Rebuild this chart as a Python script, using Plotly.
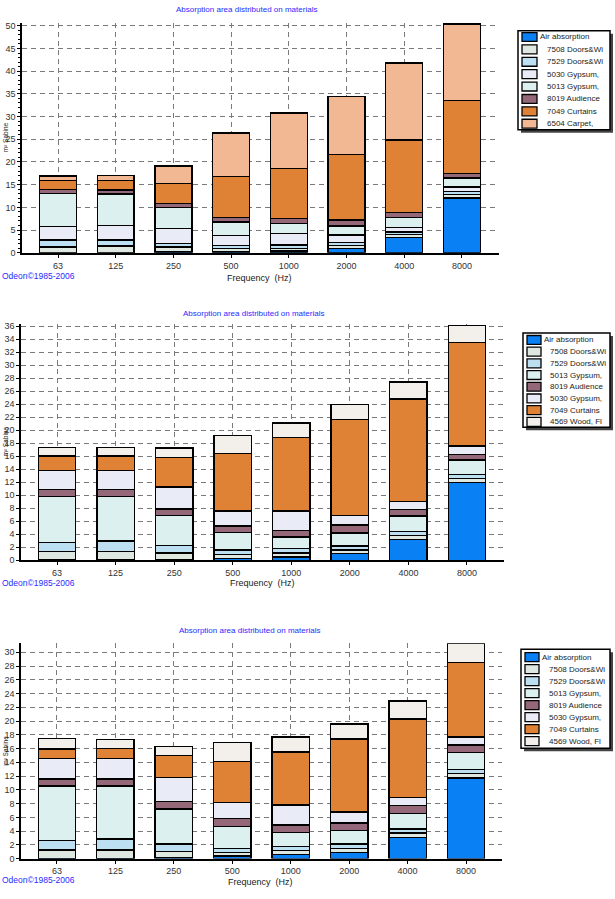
import plotly.graph_objects as go

W, H = 615, 899
freqs = ["63", "125", "250", "500", "1000", "2000", "4000", "8000"]

# ---------------- Panel 1 data ----------------
p1_names = ["Air absorption", "7508 Doors&Wi", "7529 Doors&Wi", "5030 Gypsum,",
            "5013 Gypsum,", "8019 Audience", "7049 Curtains", "6504 Carpet,"]
p1_air = [0.05, 0.05, 0.3, 0.3, 0.4, 1.0, 3.4, 12.1]
p1_7508 = [1.2, 1.4, 1.0, 0.6, 0.6, 0.6, 0.6, 0.7]
p1_7529 = [1.6, 1.4, 0.8, 0.7, 0.7, 0.7, 0.6, 0.7]
p1_5030 = [3.0, 3.2, 3.3, 2.2, 2.5, 1.6, 1.0, 1.0]
p1_5013 = [7.2, 6.9, 4.6, 3.0, 2.3, 2.0, 2.2, 2.0]
p1_8019 = [0.9, 0.9, 0.9, 1.0, 1.0, 1.3, 1.1, 0.9]
p1_7049 = [2.0, 2.1, 4.4, 9.0, 11.1, 14.4, 15.9, 16.2]
p1_6504 = [1.0, 1.1, 3.8, 9.6, 12.2, 12.8, 17.0, 16.8]

# ---------------- Panel 2 data ----------------
p2_names = ["Air absorption", "7508 Doors&Wi", "7529 Doors&Wi", "5013 Gypsum,",
            "8019 Audience", "5030 Gypsum,", "7049 Curtains", "4569 Wood, Fl"]
p2_air = [0.05, 0.05, 0.1, 0.3, 0.5, 1.0, 3.2, 12.0]
p2_7508 = [1.3, 1.3, 1.0, 0.6, 0.6, 0.6, 0.6, 0.6]
p2_7529 = [1.4, 1.6, 1.2, 0.7, 0.7, 0.6, 0.6, 0.6]
p2_5013 = [7.1, 6.9, 4.6, 2.7, 1.8, 2.0, 2.4, 2.2]
p2_8019 = [1.0, 1.0, 1.0, 1.0, 1.0, 1.2, 1.0, 0.9]
p2_5030 = [3.0, 3.0, 3.4, 2.3, 3.0, 1.5, 1.2, 1.3]
p2_7049 = [2.2, 2.2, 4.5, 8.8, 11.3, 14.8, 15.8, 15.9]
p2_4569 = [1.3, 1.3, 1.5, 2.8, 2.2, 2.3, 2.6, 2.6]

# ---------------- Panel 3 data ----------------
p3_names = p2_names
p3_air = [0.05, 0.05, 0.2, 0.4, 0.6, 0.9, 3.1, 11.7]
p3_7508 = [1.2, 1.2, 0.8, 0.5, 0.6, 0.6, 0.6, 0.7]
p3_7529 = [1.4, 1.6, 1.1, 0.6, 0.6, 0.6, 0.6, 0.6]
p3_5013 = [7.9, 7.7, 5.1, 3.2, 2.0, 2.0, 2.3, 2.4]
p3_8019 = [1.0, 1.0, 1.1, 1.1, 1.1, 1.1, 1.1, 1.1]
p3_5030 = [3.0, 3.0, 3.5, 2.4, 2.9, 1.6, 1.2, 1.2]
p3_7049 = [1.4, 1.5, 3.2, 5.9, 7.7, 10.6, 11.4, 10.8]
p3_4569 = [1.5, 1.3, 1.3, 2.8, 2.2, 2.2, 2.6, 2.8]

C_AIR = "#0a80f5"
C_7508 = "#dfe7e1"
C_7529 = "#bcdff2"
C_5030 = "#e9ebf7"
C_5013 = "#dcf0f0"
C_8019 = "#946878"
C_7049 = "#e08236"
C_6504 = "#f2b894"
C_4569 = "#f3f0ec"

p1_series = [p1_air, p1_7508, p1_7529, p1_5030, p1_5013, p1_8019, p1_7049, p1_6504]
p1_colors = [C_AIR, C_7508, C_7529, C_5030, C_5013, C_8019, C_7049, C_6504]
p2_series = [p2_air, p2_7508, p2_7529, p2_5013, p2_8019, p2_5030, p2_7049, p2_4569]
p2_colors = [C_AIR, C_7508, C_7529, C_5013, C_8019, C_5030, C_7049, C_4569]
p3_series = [p3_air, p3_7508, p3_7529, p3_5013, p3_8019, p3_5030, p3_7049, p3_4569]
p3_colors = p2_colors


def px(x):
    return x / W


def py(y):
    return 1 - y / H


FONT = "Liberation Sans, Arial, sans-serif"
fig = go.Figure()

panels = [
    dict(names=p1_names, series=p1_series, colors=p1_colors, ax="",
         xdom=(22, 499), ydom=(252, 19.8), xr=(-0.624, 7.643), yr=(0, 50.7), dt=5, minor=True,
         title=(246, 7), odeon=275, freq=(259, 277), ylab=136,
         leg=dict(box=(518, 28, 610, 128), sw=(522, 537), tx=(538, 545), y0=34.3, pitch=12.5)),
    dict(names=p2_names, series=p2_series, colors=p2_colors, ax="2",
         xdom=(21, 504), ydom=(562.3, 324.2), xr=(-0.615, 7.632), yr=(0, 36.3), dt=2, minor=False,
         title=(253, 313), odeon=585, freq=(262, 585), ylab=443,
         leg=dict(box=(523, 333, 610, 428), sw=(527, 541), tx=(542, 548), y0=340, pitch=11.8)),
    dict(names=p3_names, series=p3_series, colors=p3_colors, ax="3",
         xdom=(21, 502), ydom=(863.3, 646.1), xr=(-0.616, 7.616), yr=(0, 31.3), dt=2, minor=False,
         title=(249, 633), odeon=885, freq=(260, 887), ylab=755,
         leg=dict(box=(521, 652, 610, 752), sw=(525, 539), tx=(540, 547), y0=660, pitch=12.1)),
]

shapes = []
annotations = []
layout_axes = {}

for p in panels:
    ax = p["ax"]
    for name, vals, col in zip(p["names"], p["series"], p["colors"]):
        fig.add_trace(go.Bar(
            x=freqs, y=vals, name=name, marker=dict(color=col, line=dict(color="black", width=1.4)),
            width=0.64, xaxis="x" + ax, yaxis="y" + ax, showlegend=False,
        ))
    xa = dict(
        domain=[px(p["xdom"][0]), px(p["xdom"][1])], anchor="y" + ax,
        type="category", range=list(p["xr"]),
        showline=True, linecolor="black", linewidth=2,
        ticks="outside", ticklen=3, tickcolor="black",
        showgrid=True, gridcolor="#7a7a7a", griddash="5px,4px", gridwidth=1,
        tickfont=dict(family=FONT, size=9, color="#333"),
        zeroline=False, fixedrange=True,
    )
    ya = dict(
        domain=[py(p["ydom"][0]), py(p["ydom"][1])], anchor="x" + ax,
        range=list(p["yr"]), dtick=p["dt"], tick0=0,
        showline=True, linecolor="black", linewidth=1.5,
        ticks="outside", ticklen=3, tickcolor="black",
        showgrid=True, gridcolor="#7a7a7a", griddash="5px,4px", gridwidth=1,
        tickfont=dict(family=FONT, size=9, color="#333"),
        zeroline=False, fixedrange=True,
    )
    if p["minor"]:
        ya["minor"] = dict(ticks="outside", ticklen=2, dtick=1, tickcolor="black", showgrid=False)
    layout_axes["xaxis" + ax] = xa
    layout_axes["yaxis" + ax] = ya

    # texts
    annotations.append(dict(text="Absorption area distributed on materials", x=px(p["title"][0]),
                            y=py(p["title"][1]), xref="paper", yref="paper", showarrow=False,
                            xanchor="center", yanchor="middle",
                            font=dict(family=FONT, size=8, color="#2a2aff")))
    annotations.append(dict(text="Odeon©1985-2006", x=px(0), y=py(p["odeon"]), xref="paper",
                            yref="paper", showarrow=False, xanchor="left", yanchor="middle",
                            font=dict(family=FONT, size=8.5, color="#2a2aff")))
    annotations.append(dict(text="Frequency  (Hz)", x=px(p["freq"][0]), y=py(p["freq"][1]),
                            xref="paper", yref="paper", showarrow=False, xanchor="center",
                            yanchor="middle", font=dict(family=FONT, size=9, color="#222")))
    annotations.append(dict(text="m² Sabine", x=px(0), y=py(p["ylab"]), xref="paper", yref="paper",
                            showarrow=False, xanchor="left", yanchor="middle", textangle=-90,
                            font=dict(family=FONT, size=6.5, color="#222")))

    # legend box
    lg = p["leg"]
    x0, y0, x1, y1 = lg["box"]
    shapes.append(dict(type="rect", xref="paper", yref="paper", x0=px(x0 + 3), x1=px(x1 + 3),
                       y0=py(y1 + 3), y1=py(y0 + 3), fillcolor="#444", line=dict(width=0)))
    shapes.append(dict(type="rect", xref="paper", yref="paper", x0=px(x0), x1=px(x1),
                       y0=py(y1), y1=py(y0), fillcolor="white", line=dict(color="black", width=1.5)))
    for i, (name, col) in enumerate(zip(p["names"], p["colors"])):
        yc = lg["y0"] + i * lg["pitch"]
        shapes.append(dict(type="rect", xref="paper", yref="paper", x0=px(lg["sw"][0]),
                           x1=px(lg["sw"][1]), y0=py(yc + 4.5), y1=py(yc - 4.5), fillcolor=col,
                           line=dict(color="black", width=1.3)))
        tx = lg["tx"][0] if i == 0 else lg["tx"][1]
        annotations.append(dict(text=name, x=px(tx), y=py(yc), xref="paper", yref="paper",
                                showarrow=False, xanchor="left", yanchor="middle",
                                font=dict(family=FONT, size=8, color="#222")))

fig.update_layout(
    width=W, height=H, margin=dict(l=0, r=0, t=0, b=0),
    paper_bgcolor="white", plot_bgcolor="white",
    barmode="stack", bargap=0.36,
    shapes=shapes, annotations=annotations, showlegend=False,
    **layout_axes,
)

fig.write_html("out.html")
